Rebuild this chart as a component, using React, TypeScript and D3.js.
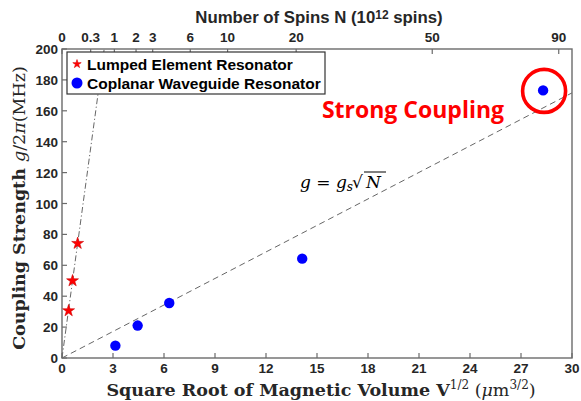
import React from "react";
import * as d3 from "d3";

const width = 581;
const height = 401;
const margin = { top: 49, right: 9, bottom: 43, left: 62 };

// data
const lumpedX = [0.39, 0.62, 0.92];
const lumpedG = [30.6, 50, 74.2];
const cpwX = [3.14, 4.45, 6.31, 14.13, 28.3];
const cpwG = [8, 21, 35.6, 64.3, 173.2];

const xTicks = d3.range(0, 31, 3);
const yTicks = d3.range(0, 201, 20);
const spinTicks = [0, 0.3, 1, 2, 3, 6, 10, 20, 50, 90];

const cpwSlope = 5.72; // g = gs sqrt(N) fit, MHz per unit
const lumpedSlope = 80.6;
const unitsPerSqrtSpin = 3.08;

const axisColor = "#6b6b6b";
const textColor = "#262626";
const sans = "'Liberation Sans', Arial, sans-serif";
const serif = "'DejaVu Serif', serif";

const App = () => {
  const x = d3.scaleLinear().domain([0, 30]).range([margin.left, width - margin.right]);
  const y = d3.scaleLinear().domain([0, 200]).range([height - margin.bottom, margin.top]);
  const nMax = Math.pow(30 / unitsPerSqrtSpin, 2);
  const xTop = d3.scalePow().exponent(0.5).domain([0, nMax]).range(x.range());

  const line = d3
    .line<[number, number]>()
    .x(d => x(d[0]))
    .y(d => y(d[1]));

  const star = d3.symbol().type(d3.symbolStar);
  const x0 = x(0), x1 = x(30), y0 = y(0), y1 = y(200);
  const last = cpwX.length - 1;

  return (
    <svg width={width} height={height} style={{ position: "absolute", left: 0, top: 0 }}>
      <rect width={width} height={height} fill="#fff" />

      {/* fit lines */}
      <path
        d={line([[0, 0], [30, 30 * cpwSlope]])!}
        fill="none"
        stroke="#555"
        strokeWidth={0.9}
        strokeDasharray="6,4"
      />
      <path
        d={line([[0, 0], [200 / lumpedSlope, 200]])!}
        fill="none"
        stroke="#555"
        strokeWidth={0.9}
        strokeDasharray="6,2.5,1.2,2.5"
      />

      {/* frame */}
      <rect x={x0} y={y1} width={x1 - x0} height={y0 - y1} fill="none" stroke={axisColor} strokeWidth={1.4} />

      {/* bottom axis */}
      {xTicks.map(t => (
        <g key={"x" + t}>
          <line x1={x(t)} x2={x(t)} y1={y0} y2={y0 - 5} stroke={axisColor} strokeWidth={1.2} />
          <text x={x(t)} y={y0 + 15} textAnchor="middle" fontFamily={sans} fontWeight="bold" fontSize={13.5} fill={textColor}>
            {t}
          </text>
        </g>
      ))}

      {/* left axis */}
      {yTicks.map(t => (
        <g key={"y" + t}>
          <line x1={x0} x2={x0 + 5} y1={y(t)} y2={y(t)} stroke={axisColor} strokeWidth={1.2} />
          <text x={x0 - 4} y={y(t) + 5} textAnchor="end" fontFamily={sans} fontWeight="bold" fontSize={13.5} fill={textColor}>
            {t}
          </text>
        </g>
      ))}

      {/* top axis: number of spins */}
      {spinTicks.map(t => (
        <g key={"n" + t}>
          <line x1={xTop(t)} x2={xTop(t)} y1={y1} y2={y1 + 5} stroke={axisColor} strokeWidth={1.2} />
          <text x={xTop(t)} y={y1 - 7} textAnchor="middle" fontFamily={sans} fontWeight="bold" fontSize={13.5} fill={textColor}>
            {t}
          </text>
        </g>
      ))}
      <text x={319} y={23} textAnchor="middle" fontFamily={sans} fontWeight="bold" fontSize={16.8} fill={textColor}>
        Number of Spins N (10
        <tspan fontSize={12} dy={-4}>12</tspan>
        <tspan dy={4}> spins)</tspan>
      </text>

      {/* legend */}
      <rect x={67} y={52} width={258} height={42} fill="#fff" stroke="#333" strokeWidth={1.2} />
      <path d={star.size(22)()!} transform="translate(77,64)" fill="#ff0000" stroke="#d00" strokeWidth={0.6} />
      <text x={87} y={69.5} fontFamily={sans} fontWeight="bold" fontSize={15.5} fill="#000">
        Lumped Element Resonator
      </text>
      <circle cx={77} cy={83} r={5.5} fill="#0000ff" />
      <text x={87} y={88.5} fontFamily={sans} fontWeight="bold" fontSize={15.5} fill="#000">
        Coplanar Waveguide Resonator
      </text>

      {/* points */}
      {lumpedX.map((v, i) => (
        <path
          key={"s" + i}
          d={star.size(44)()!}
          transform={`translate(${x(v)},${y(lumpedG[i])})`}
          fill="#ff0000"
          stroke="#c00"
          strokeWidth={0.6}
        />
      ))}
      {cpwX.map((v, i) => (
        <circle key={"c" + i} cx={x(v)} cy={y(cpwG[i])} r={5.2} fill="#0000ff" />
      ))}

      {/* strong coupling annotation */}
      <circle cx={x(cpwX[last]) + 1} cy={y(cpwG[last]) + 0.5} r={21.5} fill="none" stroke="#ff0000" strokeWidth={3.6} />
      <text x={413} y={118} textAnchor="middle" fontFamily="'Open Sans', sans-serif" fontWeight="bold" fontSize={23} fill="#ff0000">
        Strong Coupling
      </text>

      {/* equation */}
      <g fontFamily={serif} fontStyle="italic" fontSize={17} fill="#000">
        <text x={300} y={188}>
          g = g<tspan fontSize={12} dy={3}>s</tspan>
        </text>
        <text x={352} y={188} fontStyle="normal">√</text>
        <text x={366} y={188}>N</text>
        <line x1={364} x2={386} y1={172} y2={172} stroke="#000" strokeWidth={1} />
      </g>

      {/* axis titles */}
      <text x={321} y={396} textAnchor="middle" fontFamily={serif} fontSize={17.5} fill={textColor}>
        <tspan fontWeight="bold">Square Root of Magnetic Volume V</tspan>
        <tspan fontSize={12} dy={-7}>1/2</tspan>
        <tspan dy={7}> (</tspan>
        <tspan fontStyle="italic">μ</tspan>
        <tspan>m</tspan>
        <tspan fontSize={12} dy={-7}>3/2</tspan>
        <tspan dy={7}>)</tspan>
      </text>
      <text
        transform="translate(25,208) rotate(-90)"
        textAnchor="middle"
        fontFamily={serif}
        fontSize={17.5}
        fill={textColor}
      >
        <tspan fontWeight="bold">Coupling Strength </tspan>
        <tspan fontStyle="italic">g</tspan>
        <tspan>/2</tspan>
        <tspan fontStyle="italic">π</tspan>
        <tspan>(MHz)</tspan>
      </text>
    </svg>
  );
};

export default App;
